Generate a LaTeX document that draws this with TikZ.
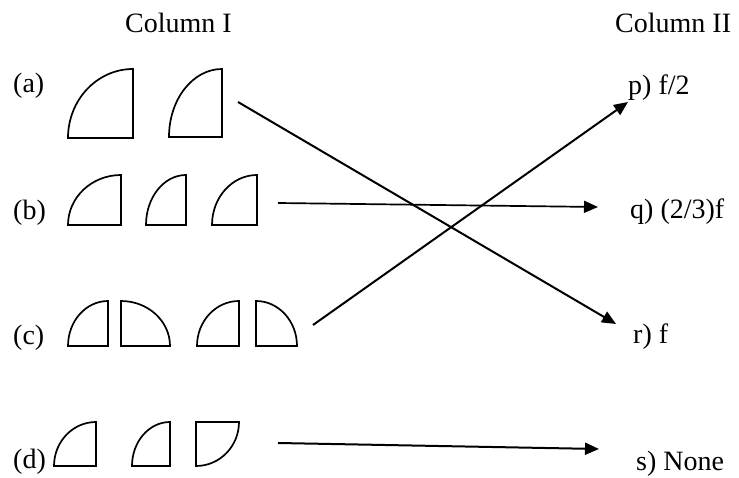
\documentclass[tikz,border=0pt]{standalone}
\usepackage{fontspec}
\setmainfont{Liberation Serif}
\usetikzlibrary{arrows.meta}
% quarter pieces: left, right, bottom, top
\newcommand{\quadbr}[4]{\draw[qshape] (#2,#4) -- (#2,#3) -- (#1,#3)
  arc[start angle=180, end angle=90, x radius={#2-#1}, y radius={#4-#3}] -- cycle;}
\newcommand{\quadbl}[4]{\draw[qshape] (#1,#4) -- (#1,#3) -- (#2,#3)
  arc[start angle=0, end angle=90, x radius={#2-#1}, y radius={#4-#3}] -- cycle;}
\newcommand{\quadtl}[4]{\draw[qshape] (#1,#3) -- (#1,#4) -- (#2,#4)
  arc[start angle=0, end angle=-90, x radius={#2-#1}, y radius={#4-#3}] -- cycle;}

\begin{document}
\begin{tikzpicture}[
    x=1pt, y=1pt,
    txt/.style={inner sep=0pt, anchor=base west, font=\fontsize{28}{32}\selectfont},
    qshape/.style={draw=black, line width=1.7pt, line join=miter},
    arr/.style={-{Triangle[length=14pt,width=12pt]}, line width=2pt, draw=black}
  ]
    \useasboundingbox (0,0) rectangle (739,477);
    % headings
    \node[txt] (h1) at (125,444) {Column I};
    \node[txt] (h2) at (615,444) {Column II};
    % column I
    \node[txt] (la) at (13,384) {(a)};
    \node[txt] (lb) at (13,257) {(b)};
    \node[txt] (lc) at (13,132) {(c)};
    \node[txt] (ld) at (13,9) {(d)};
    % column II
    \node[txt] (p) at (628,382) {p) f/2};
    \node[txt] (q) at (630,258) {q) (2/3)f};
    \node[txt] (r) at (633,134) {r) f};
    \node[txt] (s) at (636,7) {s) None};
    % pieces
    \quadbr{68}{133}{339}{408}
    \quadbr{169}{222}{340}{408}
    \quadbr{68}{121}{252}{302}
    \quadbr{146}{186}{252}{302}
    \quadbr{212}{257}{252}{302}
    \quadbr{68}{108}{131}{176}
    \quadbl{121}{170}{131}{176}
    \quadbr{197}{239}{131}{176}
    \quadbl{256}{297}{131}{176}
    \quadbr{54}{96}{11}{55}
    \quadbr{132}{170}{11}{55}
    \quadtl{196}{239}{11}{55}
    % connectors
    \coordinate (a-out) at (238,375);
    \coordinate (b-out) at (278,274);
    \coordinate (c-out) at (313,152);
    \coordinate (d-out) at (278,34);
    \draw[arr] (a-out) -- ([shift={(-17,19)}]r.base west);
    \draw[arr, line width=1.7pt] (b-out) -- ([shift={(-32,12)}]q.base west);
    \draw[arr] (c-out) -- ([shift={(0,-7)}]p.base west);
    \draw[arr] (d-out) -- ([shift={(-37,21)}]s.base west);
  \end{tikzpicture}
\end{document}
